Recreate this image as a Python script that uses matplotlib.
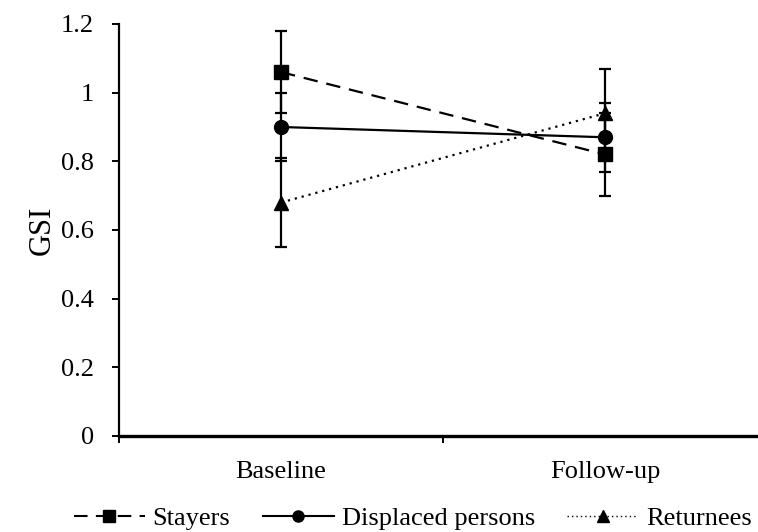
import matplotlib
matplotlib.use("Agg")
import matplotlib.pyplot as plt
from matplotlib.lines import Line2D

plt.rcParams['font.family'] = ['Liberation Serif', 'DejaVu Serif']

# data
categories = ['Baseline', 'Follow-up']
stayers = [1.06, 0.82]
displaced = [0.90, 0.87]
returnees = [0.68, 0.94]
err_stayers = [0.12, 0.12]
err_displaced = [0.10, 0.10]
err_returnees = [0.13, 0.13]
yticks = [0, 0.2, 0.4, 0.6, 0.8, 1, 1.2]
ytick_labels = ['0', '0.2', '0.4', '0.6', '0.8', '1', '1.2']

fig = plt.figure(figsize=(7.58, 5.32), dpi=100)
# axis runs past the right edge like in the original
ax = fig.add_axes([0.157, 0.1805, 0.855, 0.7744])

x = [0.5, 1.5]
dash = (0, (6.5, 4))
dot = (0, (1, 2.2))
common = dict(color='black', lw=1.6, ms=10, capsize=4.6, elinewidth=1.6,
              capthick=1.6, clip_on=False)
ax.errorbar(x, stayers, yerr=err_stayers, marker='s', linestyle=dash, **common)
ax.errorbar(x, displaced, yerr=err_displaced, marker='o', linestyle='-', **common)
ax.errorbar(x, returnees, yerr=err_returnees, marker='^', linestyle=dot, **common)

ax.set_xlim(0, 2)
ax.set_ylim(0, 1.2)
ax.set_yticks(yticks)
ax.set_yticklabels(ytick_labels, fontsize=19)
ax.set_xticks([0, 1, 2])
ax.set_xticklabels([])
ax.set_xticks(x, minor=True)
ax.set_xticklabels(categories, minor=True, fontsize=19)
ax.tick_params(axis='x', which='minor', length=0, pad=18)
ax.tick_params(axis='x', which='major', direction='out', length=5, width=1.4)
ax.tick_params(axis='y', direction='out', length=5, width=1.4, pad=13)

for s in ['top', 'right']:
    ax.spines[s].set_visible(False)
ax.spines['left'].set_linewidth(1.6)
ax.spines['bottom'].set_linewidth(2.4)

ax.set_ylabel('GSI', fontsize=22, labelpad=3)

# legend handles without the error bars
handles = [
    Line2D([], [], color='black', lw=1.5, marker='s', ms=8, linestyle=dash),
    Line2D([], [], color='black', lw=1.5, marker='o', ms=8, linestyle='-'),
    Line2D([], [], color='black', lw=1.0, marker='^', ms=8, linestyle=dot),
]
labels = ['Stayers', 'Displaced persons', 'Returnees']
fig.legend(handles, labels, loc='center left', bbox_to_anchor=(0.097, 0.026),
           ncol=3, frameon=False, fontsize=19, handlelength=2.7,
           columnspacing=1.22, handletextpad=0.3, borderpad=0,
           borderaxespad=0)

fig.savefig('out.png', dpi=100)
